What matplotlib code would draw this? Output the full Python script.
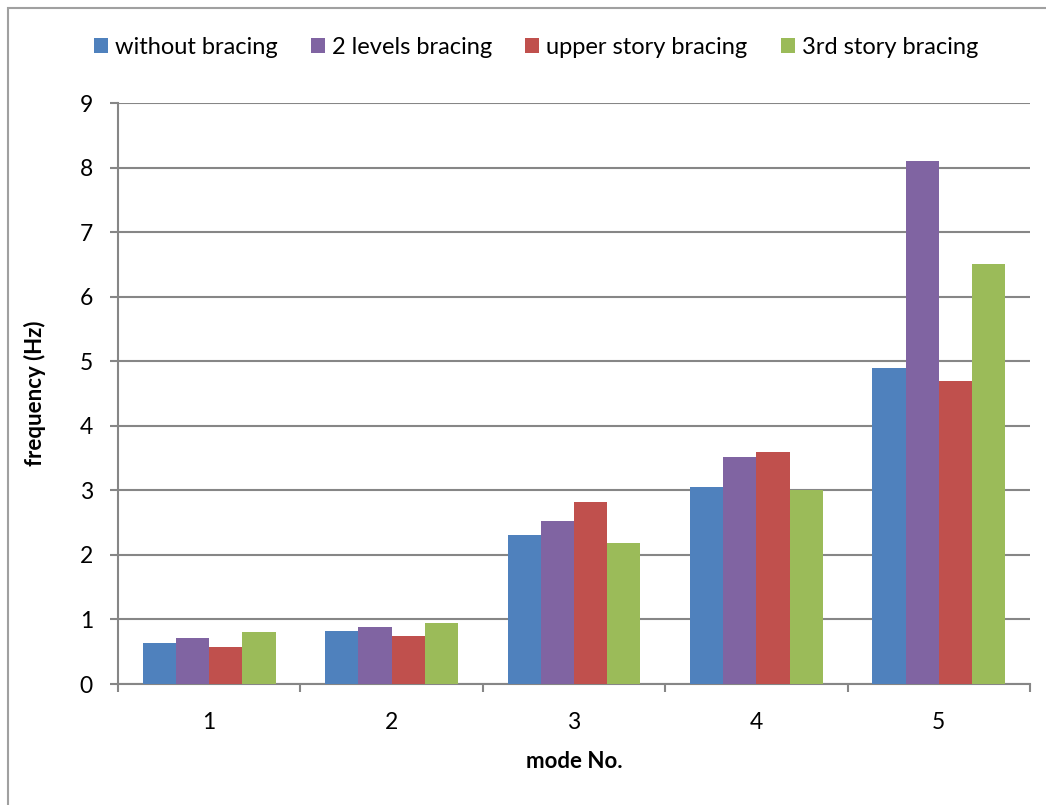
import matplotlib
matplotlib.use("Agg")
import matplotlib.pyplot as plt
import numpy as np
from matplotlib.patches import Rectangle

modes = ["1", "2", "3", "4", "5"]
series_names = ["without bracing", "2 levels bracing", "upper story bracing", "3rd story bracing"]
without_bracing = [0.63, 0.82, 2.31, 3.05, 4.90]
two_levels = [0.72, 0.88, 2.52, 3.52, 8.10]
upper_story = [0.58, 0.75, 2.82, 3.60, 4.69]
third_story = [0.80, 0.95, 2.18, 3.00, 6.50]
colors = ["#4F81BD", "#8064A2", "#C0504D", "#9BBB59"]

plt.rcParams['font.family'] = ['Lato', 'DejaVu Sans']
grey = "#868686"

fig = plt.figure(figsize=(10.46, 8.05), dpi=100)
# chart-area border (bottom edge runs off the picture)
fig.patches.append(Rectangle((8/1046, -0.2), 1.2, 1.2 - 8/805, transform=fig.transFigure,
                             fill=False, edgecolor="#A0A0A0", linewidth=1.5))

ax = fig.add_axes([118/1046, 1 - 684/805, (1030-118)/1046, (684-103)/805])

data = [without_bracing, two_levels, upper_story, third_story]
x = np.arange(len(modes))
w = 1 / 5.5
for i, vals in enumerate(data):
    ax.bar(x + (i - 1.5) * w, vals, width=w, color=colors[i], label=series_names[i], zorder=3)

ax.set_xlim(-0.5, 4.5)
ax.set_ylim(0, 9)
ax.set_yticks(range(10))
ax.set_xticks(x)
ax.set_xticklabels(modes)
ax.set_xticks(np.arange(-0.5, 5, 1), minor=True)
ax.tick_params(axis='x', which='major', length=0, labelsize=16.5, pad=20)
ax.tick_params(axis='x', which='minor', length=6, color=grey, width=1.5)
ax.tick_params(axis='y', length=6, color=grey, width=1.5, labelsize=16.5, pad=12)
ax.yaxis.grid(True, color=grey, linewidth=1.5, zorder=0)
for s in ["top", "right"]:
    ax.spines[s].set_visible(False)
for s in ["left", "bottom"]:
    ax.spines[s].set_color(grey)
    ax.spines[s].set_linewidth(1.5)

ax.set_ylabel("frequency (Hz)", fontsize=16, fontweight='bold', labelpad=24)
ax.set_xlabel("mode No.", fontsize=16, fontweight='bold', labelpad=13)

fig.legend(loc='center', bbox_to_anchor=(536/1046, 1 - 47/805), ncol=4, frameon=False,
           fontsize=17, handlelength=0.6, handleheight=0.6, handletextpad=0.3, columnspacing=1.4)

fig.savefig("out.png", dpi=100)
